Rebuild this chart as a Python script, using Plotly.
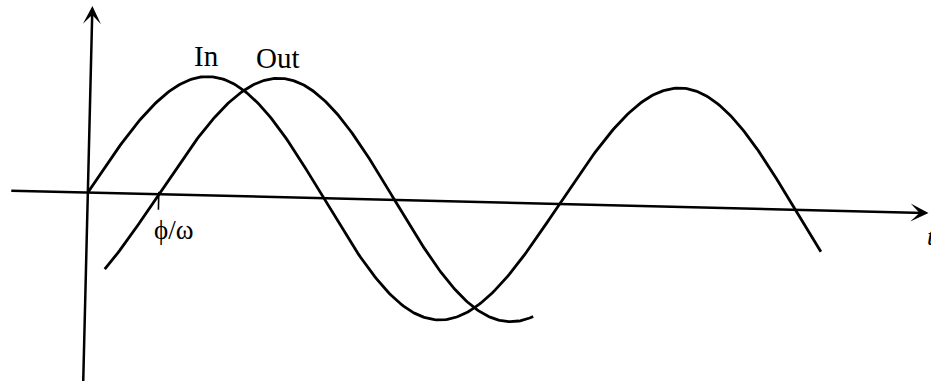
import numpy as np
import plotly.graph_objects as go

# Phase lag sketch: input sin(wt) and output sin(wt - phi)
# x unit is wt in radians, y unit is the amplitude
PHASE = 0.945                # phi, shift between the two curves
IN_WT = [0.0, 9.78]          # where the "In" curve starts / stops
OUT_WT = [0.25, 5.97]        # where the "Out" curve starts / stops
T_AXIS = [-1.04, 11.2]       # extent of the t axis
V_AXIS = [-1.6, 1.57]        # extent of the vertical axis
CURVE_NAMES = ["In", "Out"]
PHASE_LABEL = "ϕ/ω"
T_LABEL = "t"

W, H = 931, 385
X_RANGE = [-1.17, 11.23]
Y_RANGE = [-1.62, 1.62]

# the scanned page sits about 1.4 degrees off level, turn everything to match
TILT = np.radians(1.4)
sx = W / (X_RANGE[1] - X_RANGE[0])
sy = H / (Y_RANGE[1] - Y_RANGE[0])


def tilt(u, v):
    u = np.asarray(u, dtype=float) * sx
    v = np.asarray(v, dtype=float) * sy
    x = u * np.cos(TILT) + v * np.sin(TILT)
    y = -u * np.sin(TILT) + v * np.cos(TILT)
    return x / sx, y / sy


fig = go.Figure()

# input and output waves
wt_in = np.linspace(IN_WT[0], IN_WT[1], 400)
wt_out = np.linspace(OUT_WT[0], OUT_WT[1], 300)
for wt, shift in [(wt_in, 0.0), (wt_out, PHASE)]:
    x, y = tilt(wt, np.sin(wt - shift))
    fig.add_trace(go.Scatter(x=x, y=y, mode="lines",
                             line=dict(color="black", width=2.8),
                             hoverinfo="skip"))

# small tick where the output crosses zero
x, y = tilt([PHASE, PHASE], [0.02, -0.13])
fig.add_trace(go.Scatter(x=x, y=y, mode="lines",
                         line=dict(color="black", width=1.6), hoverinfo="skip"))

annotations = []

# axes drawn as arrows
for (u0, v0), (u1, v1) in [((T_AXIS[0], 0), (T_AXIS[1], 0)),
                           ((0, V_AXIS[0]), (0, V_AXIS[1]))]:
    tx, ty = tilt(u0, v0)
    hx, hy = tilt(u1, v1)
    annotations.append(dict(
        x=float(hx), y=float(hy), ax=float(tx), ay=float(ty),
        xref="x", yref="y", axref="x", ayref="y",
        text="", showarrow=True, arrowhead=3, arrowsize=1.2,
        arrowwidth=2.5, arrowcolor="black", standoff=0
    ))

serif = "Liberation Serif, Times New Roman, serif"

# curve names above their first peaks
for name, shift in zip(CURVE_NAMES, [0.0, PHASE]):
    lx, ly = tilt(np.pi / 2 + shift - 0.03, 1.17)
    annotations.append(dict(
        x=float(lx), y=float(ly), text=name, showarrow=False,
        font=dict(family=serif, size=29, color="black"),
        xanchor="center", yanchor="middle"
    ))

lx, ly = tilt(PHASE + 0.21, -0.30)
annotations.append(dict(
    x=float(lx), y=float(ly), text=PHASE_LABEL, showarrow=False,
    font=dict(family=serif, size=27, color="black"),
    xanchor="center", yanchor="middle"
))

# t label runs off the right edge, as on the page
lx, ly = tilt(11.16, -0.2)
annotations.append(dict(
    x=float(lx), y=float(ly), text="<i>" + T_LABEL + "</i>", showarrow=False,
    font=dict(family=serif, size=26, color="black"),
    xanchor="left", yanchor="middle"
))

fig.update_layout(
    width=W, height=H,
    margin=dict(l=0, r=0, t=0, b=0),
    showlegend=False,
    plot_bgcolor="white",
    paper_bgcolor="white",
    xaxis=dict(range=X_RANGE, visible=False, fixedrange=True),
    yaxis=dict(range=Y_RANGE, visible=False, fixedrange=True),
    annotations=annotations,
)

# drop the default body margin so the figure sits at the page corner
fig.write_html("out.html", config={"displayModeBar": False},
               post_script="document.body.style.margin = '0';")
